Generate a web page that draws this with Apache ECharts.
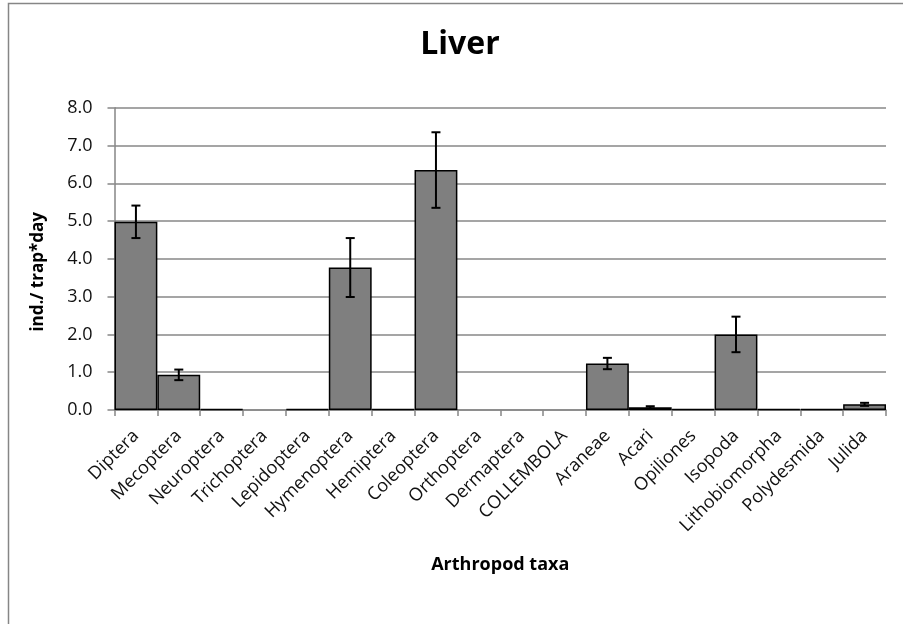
<!DOCTYPE html>
<html>
<head>
<meta charset="utf-8">
<script src="https://cdn.jsdelivr.net/npm/echarts@6/dist/echarts.min.js"></script>
<style>
html,body{margin:0;padding:0;background:#fff;}
#chart{width:903px;height:624px;}
</style>
</head>
<body>
<div id="chart"></div>
<script>
const categories = ["Diptera","Mecoptera","Neuroptera","Trichoptera","Lepidoptera","Hymenoptera","Hemiptera","Coleoptera","Orthoptera","Dermaptera","COLLEMBOLA","Araneae","Acari","Opiliones","Isopoda","Lithobiomorpha","Polydesmida","Julida"];
const means = [4.98, 0.93, 0.02, 0, 0.02, 3.77, 0.02, 6.35, 0, 0, 0, 1.23, 0.07, 0.02, 2.0, 0.02, 0.02, 0.15];
const errors = [0.43, 0.14, 0, 0, 0, 0.78, 0, 1.0, 0, 0, 0, 0.15, 0.03, 0, 0.47, 0, 0, 0.04];
const yTicks = [0,1,2,3,4,5,6,7,8];

const barData = means.map(m => m === 0 ? {value:m, itemStyle:{borderWidth:0}} : m);
const errData = means.map((m,i)=> errors[i] > 0 ? [i, m - errors[i], m + errors[i]] : null).filter(d=>d);

const chart = echarts.init(document.getElementById('chart'), null, {renderer:'canvas'});
const font = '"Open Sans", "DejaVu Sans", sans-serif';
chart.setOption({
  animation:false,
  backgroundColor:'#ffffff',
  graphic:[{
    type:'rect', shape:{x:8.5,y:3.5,width:900,height:700},
    style:{fill:'none',stroke:'#868686',lineWidth:1.5}, z:-1
  }],
  title:{
    text:'Liver', left:455, top:24, textAlign:'center',
    textStyle:{fontFamily:font,fontSize:32,fontWeight:'bold',color:'#000'}
  },
  grid:{left:114.5,right:17,top:107.7,bottom:214,containLabel:false},
  xAxis:{
    type:'category', data:categories,
    name:'Arthropod taxa', nameLocation:'middle', nameGap:146,
    nameTextStyle:{fontFamily:font,fontSize:18,fontWeight:'bold',color:'#000'},
    axisLine:{lineStyle:{color:'#868686',width:1.5}},
    axisTick:{show:true,length:6,lineStyle:{color:'#868686',width:1.5},alignWithLabel:false},
    axisLabel:{rotate:45,interval:0,fontFamily:font,fontSize:18,color:'#111',margin:23}
  },
  yAxis:{
    type:'value', min:yTicks[0], max:yTicks[yTicks.length-1], interval:1,
    name:'ind./ trap*day', nameLocation:'middle', nameGap:68, nameRotate:90,
    nameTextStyle:{fontFamily:font,fontSize:17,fontWeight:'bold',color:'#000',padding:[0,0,0,-26]},
    axisLine:{show:true,lineStyle:{color:'#868686',width:1.5}},
    axisTick:{show:true,length:7,lineStyle:{color:'#868686',width:1.5}},
    axisLabel:{fontFamily:font,fontSize:18,color:'#111',margin:22,formatter:v=>v.toFixed(1)},
    splitLine:{lineStyle:{color:'#878787',width:1.5}}
  },
  series:[{
    type:'bar', data:barData, barCategoryGap:'0%', barWidth:'100%',
    itemStyle:{color:'#7f7f7f',borderColor:'#000',borderWidth:1.5}
  },{
    type:'custom', data:errData, z:10,
    encode:{x:0,y:[1,2]},
    renderItem:function(params,api){
      const i = api.value(0);
      const lo = api.coord([i, api.value(1)]);
      const hi = api.coord([i, api.value(2)]);
      const hw = 4.5;
      const st = {stroke:'#000',lineWidth:2};
      return {type:'group',children:[
        {type:'line',shape:{x1:hi[0],y1:hi[1],x2:lo[0],y2:lo[1]},style:st},
        {type:'line',shape:{x1:hi[0]-hw,y1:hi[1],x2:hi[0]+hw,y2:hi[1]},style:st},
        {type:'line',shape:{x1:lo[0]-hw,y1:lo[1],x2:lo[0]+hw,y2:lo[1]},style:st}
      ]};
    }
  }]
});
</script>
</body>
</html>
